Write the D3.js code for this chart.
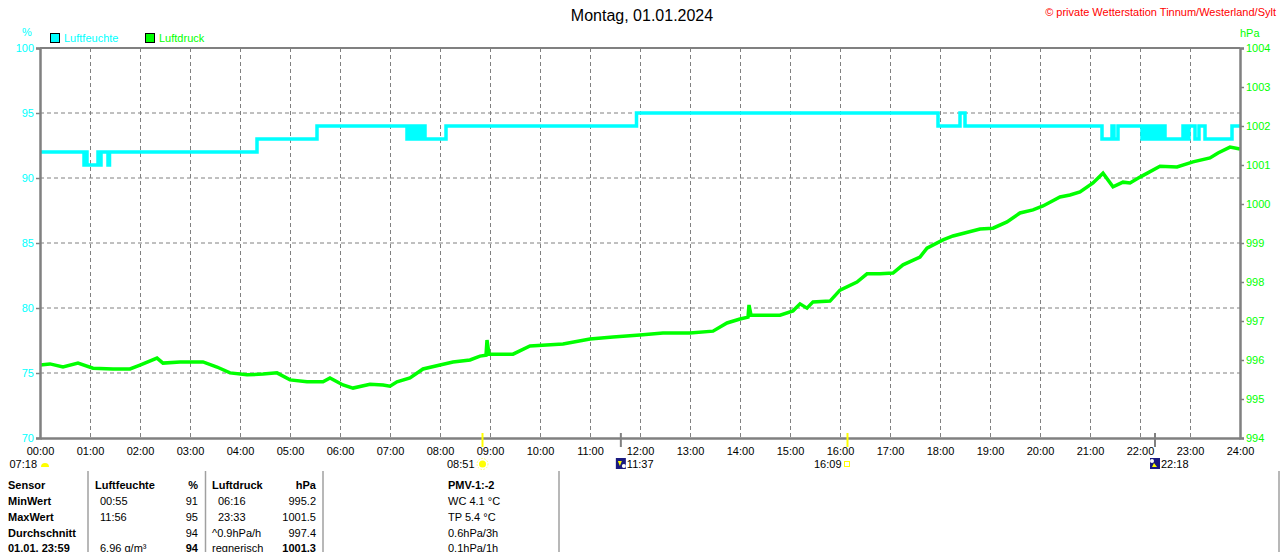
<!DOCTYPE html>
<html>
<head>
<meta charset="utf-8">
<script src="https://cdn.jsdelivr.net/npm/d3@7"></script>
<style>
  body { margin: 0; background: #fff; }
  svg text { font-family: "Liberation Sans", Arial, sans-serif; }
</style>
</head>
<body>
<div id="chart"></div>
<script>
// humidity (%) as step series: hour of day -> value
const humTimes  = [0, 0.88, 0.92, 0.94, 1.16, 1.2, 1.22, 1.36, 1.39, 4.34, 5.54,
  7.34, 7.38, 7.42, 7.46, 7.5, 7.54, 7.6, 7.64, 7.7, 8.12, 11.93, 17.96, 18.4, 18.5,
  21.24, 21.44, 21.48, 21.56, 22.04, 22.1, 22.14, 22.2, 22.26, 22.32, 22.38, 22.44, 22.5,
  22.86, 22.92, 22.98, 23.1, 23.18, 23.3, 23.84, 24];
const humValues = [92, 91, 92, 91, 92, 91, 92, 91, 92, 93, 94,
  93, 94, 93, 94, 93, 94, 93, 94, 93, 94, 95, 94, 95, 94,
  93, 94, 93, 94, 93, 94, 93, 94, 93, 94, 93, 94, 93,
  94, 93, 94, 93, 94, 93, 94, 94];

// air pressure (hPa)
const pressTimes = [0, 0.2, 0.46, 0.76, 1.06, 1.46, 1.8, 2.0, 2.34, 2.46, 2.8, 3.26, 3.54, 3.8,
  4.14, 4.46, 4.74, 5.0, 5.34, 5.66, 5.8, 6.06, 6.26, 6.6, 6.86, 7.0, 7.14, 7.4, 7.66, 8.0,
  8.26, 8.6, 8.8, 8.92, 8.94, 8.98, 9.46, 9.8, 10.46, 11.0, 11.46, 12.0, 12.46, 13.0, 13.46,
  13.74, 14.0, 14.16, 14.18, 14.22, 14.8, 15.06, 15.2, 15.34, 15.46, 15.8, 16.0, 16.34, 16.54,
  16.8, 17.06, 17.26, 17.6, 17.74, 18.06, 18.26, 18.8, 19.06, 19.34, 19.6, 19.86, 20.06, 20.4,
  20.6, 20.8, 21.06, 21.26, 21.46, 21.66, 21.8, 22.0, 22.4, 22.74, 23.06, 23.4, 23.56, 23.8, 24];
const pressValues = [995.87, 995.90, 995.82, 995.92, 995.79, 995.77, 995.77, 995.87, 996.05, 995.92,
  995.95, 995.95, 995.82, 995.67, 995.62, 995.64, 995.67, 995.49, 995.44, 995.44, 995.54, 995.36,
  995.28, 995.38, 995.36, 995.33, 995.44, 995.54, 995.77, 995.87, 995.95, 996.00, 996.10, 996.12,
  996.51, 996.15, 996.15, 996.36, 996.41, 996.54, 996.59, 996.64, 996.69, 996.69, 996.74, 996.95,
  997.05, 997.10, 997.41, 997.15, 997.15, 997.26, 997.44, 997.33, 997.49, 997.51, 997.79, 998.00,
  998.21, 998.21, 998.23, 998.44, 998.64, 998.87, 999.08, 999.18, 999.36, 999.38, 999.54, 999.77,
  999.85, 999.95, 1000.18, 1000.23, 1000.31, 1000.54, 1000.79, 1000.44, 1000.56, 1000.54, 1000.69,
  1000.97, 1000.95, 1001.08, 1001.18, 1001.31, 1001.46, 1001.41, 1001.33];

const humTicks   = [70, 75, 80, 85, 90, 95, 100];
const pressTicks = [994, 995, 996, 997, 998, 999, 1000, 1001, 1002, 1003, 1004];
const hourTicks  = [0, 1, 2, 3, 4, 5, 6, 7, 8, 9, 10, 11, 12, 13, 14, 15, 16, 17, 18, 19, 20, 21, 22, 23, 24];
const hourLabels = ['00:00', '01:00', '02:00', '03:00', '04:00', '05:00', '06:00', '07:00', '08:00',
  '09:00', '10:00', '11:00', '12:00', '13:00', '14:00', '15:00', '16:00', '17:00', '18:00', '19:00',
  '20:00', '21:00', '22:00', '23:00', '24:00'];

// sun / moon events
const eventTimes  = [8.85, 11.617, 16.15, 22.3];
const eventLabels = ['08:51', '11:37', '16:09', '22:18'];
const eventKinds  = ['sunrise', 'moonset', 'sunset', 'moonrise'];

// summary table
const tableLabels = ['Sensor', 'MinWert', 'MaxWert', 'Durchschnitt', '01.01. 23:59'];
const humCol  = [['Luftfeuchte', '%'], ['00:55', '91'], ['11:56', '95'], ['', '94'], ['6.96 g/m³', '94']];
const pressCol = [['Luftdruck', 'hPa'], ['06:16', '995.2'], ['23:33', '1001.5'], ['^0.9hPa/h', '997.4'], ['regnerisch', '1001.3']];
const extraCol = ['PMV-1:-2', 'WC 4.1 °C', 'TP 5.4 °C', '0.6hPa/3h', '0.1hPa/1h'];

const W = 1280, H = 552;
const CYAN = '#00ffff', GREEN = '#00ff00', GRAY = '#808080';

const svg = d3.select('#chart').append('svg').attr('width', W).attr('height', H);

const x = d3.scaleLinear().domain([0, 24]).range([40, 1240]);
const yH = d3.scaleLinear().domain([70, 100]).range([438, 48]);
const yP = d3.scaleLinear().domain([994, 1004]).range([438, 48]);

// grid
svg.append('g').selectAll('line')
  .data(humTicks.filter(d => d > 70 && d < 100))
  .enter().append('line')
  .attr('x1', x(0)).attr('x2', x(24))
  .attr('y1', d => yH(d)).attr('y2', d => yH(d))
  .attr('stroke', GRAY).attr('stroke-dasharray', '4,3');
svg.append('g').selectAll('line')
  .data(hourTicks.filter(d => d > 0 && d < 24))
  .enter().append('line')
  .attr('x1', d => x(d) + 0.5).attr('x2', d => x(d) + 0.5)
  .attr('y1', yH(100)).attr('y2', yH(70))
  .attr('stroke', GRAY).attr('stroke-dasharray', '4,3');

// lines
const humData = humTimes.map((t, i) => [t, humValues[i]]);
const pressData = pressTimes.map((t, i) => [t, pressValues[i]]);

svg.append('path')
  .datum(pressData)
  .attr('fill', 'none').attr('stroke', GREEN).attr('stroke-width', 3.5)
  .attr('d', d3.line().x(d => x(d[0])).y(d => yP(d[1])));

svg.append('path')
  .datum(humData)
  .attr('fill', 'none').attr('stroke', CYAN).attr('stroke-width', 3.5)
  .attr('d', d3.line().curve(d3.curveStepAfter).x(d => x(d[0])).y(d => yH(d[1])));

// frame top
svg.append('line').attr('x1', x(0)).attr('x2', x(24)).attr('y1', yH(100)).attr('y2', yH(100))
  .attr('stroke', GRAY).attr('stroke-width', 2);

// axes
const leftAxis = svg.append('g').attr('transform', `translate(${x(0)},0)`)
  .call(d3.axisLeft(yH).tickValues(humTicks).tickSize(4).tickPadding(2).tickFormat(d3.format('d')));
const rightAxis = svg.append('g').attr('transform', `translate(${x(24)},0)`)
  .call(d3.axisRight(yP).tickValues(pressTicks).tickSize(4).tickPadding(2).tickFormat(d3.format('d')));
const bottomAxis = svg.append('g').attr('transform', `translate(0,${yH(70)})`)
  .call(d3.axisBottom(x).tickValues(hourTicks).tickSize(0).tickPadding(9)
    .tickFormat((d, i) => hourLabels[i]));

[leftAxis, rightAxis, bottomAxis].forEach(g => {
  g.select('.domain').attr('stroke', GRAY).attr('stroke-width', 2.5);
  g.selectAll('.tick line').attr('stroke', GRAY).attr('stroke-width', 1.5);
  g.selectAll('text').attr('font-size', 11).attr('font-family', '"Liberation Sans", Arial, sans-serif');
});
leftAxis.selectAll('text').attr('fill', CYAN);
rightAxis.selectAll('text').attr('fill', GREEN);
bottomAxis.selectAll('text').attr('fill', '#000');

// axis units
svg.append('text').attr('x', 27).attr('y', 36).attr('text-anchor', 'middle')
  .attr('font-size', 11).attr('fill', CYAN).text('%');
svg.append('text').attr('x', 1240).attr('y', 37)
  .attr('font-size', 11).attr('fill', GREEN).text('hPa');

// legend
const legend = [['Luftfeuchte', CYAN, 50], ['Luftdruck', GREEN, 145]];
legend.forEach(([name, col, lx]) => {
  svg.append('rect').attr('x', lx + 0.5).attr('y', 33.5).attr('width', 9).attr('height', 9)
    .attr('fill', col).attr('stroke', '#000');
  svg.append('text').attr('x', lx + 14).attr('y', 42).attr('font-size', 11).attr('fill', col).text(name);
});

// title and copyright
svg.append('text').attr('x', 642).attr('y', 21).attr('text-anchor', 'middle')
  .attr('font-size', 16).attr('fill', '#000').text('Montag, 01.01.2024');
svg.append('text').attr('x', 1276).attr('y', 16).attr('text-anchor', 'end')
  .attr('font-size', 11).attr('fill', '#ff0000').text('© private Wetterstation Tinnum/Westerland/Sylt');

// sun / moon event markers
eventTimes.forEach((t, i) => {
  const ex = x(t);
  const kind = eventKinds[i];
  const isSun = kind.startsWith('sun');
  svg.append('line').attr('x1', ex).attr('x2', ex).attr('y1', 433).attr('y2', 447)
    .attr('stroke', isSun ? '#ffff00' : GRAY).attr('stroke-width', 2);
  if (kind === 'sunrise') {
    svg.append('circle').attr('cx', ex).attr('cy', 464).attr('r', 3.5).attr('fill', '#ffff00');
    svg.append('circle').attr('cx', ex).attr('cy', 464).attr('r', 5.5).attr('fill', 'none')
      .attr('stroke', '#ffff66').attr('stroke-dasharray', '1.5,1.5');
    svg.append('text').attr('x', ex - 8).attr('y', 468).attr('text-anchor', 'end')
      .attr('font-size', 11).text(eventLabels[i]);
  } else if (kind === 'sunset') {
    svg.append('rect').attr('x', ex - 3).attr('y', 461.5).attr('width', 5).attr('height', 5)
      .attr('fill', 'none').attr('stroke', '#ffff00');
    svg.append('text').attr('x', ex - 6).attr('y', 468).attr('text-anchor', 'end')
      .attr('font-size', 11).text(eventLabels[i]);
  } else {
    svg.append('rect').attr('x', ex - 5).attr('y', 458).attr('width', 10).attr('height', 11).attr('fill', '#1a1a80');
    svg.append('circle').attr('cx', ex + (kind === 'moonset' ? 3 : -3)).attr('cy', kind === 'moonset' ? 466 : 461)
      .attr('r', 2).attr('fill', '#fff');
    svg.append('path')
      .attr('d', kind === 'moonset'
        ? `M${ex - 3},461 L${ex + 1},461 L${ex - 1},466 Z`
        : `M${ex - 1},463 L${ex + 2},467 L${ex - 3},467 Z`)
      .attr('fill', '#ffff00');
    svg.append('text').attr('x', ex + 6).attr('y', 468)
      .attr('font-size', 11).text(eventLabels[i]);
  }
});

// start-of-day marker
svg.append('text').attr('x', 37).attr('y', 468).attr('text-anchor', 'end').attr('font-size', 11).text('07:18');
svg.append('path').attr('d', d3.arc()({ innerRadius: 0, outerRadius: 4, startAngle: -Math.PI / 2, endAngle: Math.PI / 2 }))
  .attr('transform', `translate(${x(0) + 5},467)`).attr('fill', '#ffff00');

// summary table
[88, 205.5, 323, 559, 1279].forEach(lx => {
  svg.append('line').attr('x1', lx).attr('x2', lx).attr('y1', 471).attr('y2', H)
    .attr('stroke', '#a0a0a0').attr('stroke-width', 1.5);
});
const rowY = [489, 505, 521, 537, 552];
tableLabels.forEach((lab, i) => {
  svg.append('text').attr('x', 8).attr('y', rowY[i]).attr('font-size', 11)
    .attr('font-weight', 'bold').text(lab);
});
humCol.forEach(([a, b], i) => {
  svg.append('text').attr('x', i === 0 ? 95 : 100).attr('y', rowY[i]).attr('font-size', 11)
    .attr('font-weight', i === 0 ? 'bold' : 'normal').text(a);
  svg.append('text').attr('x', 198).attr('y', rowY[i]).attr('text-anchor', 'end').attr('font-size', 11)
    .attr('font-weight', (i === 0 || i === 4) ? 'bold' : 'normal').text(b);
});
pressCol.forEach(([a, b], i) => {
  svg.append('text').attr('x', (i === 1 || i === 2) ? 218 : 212).attr('y', rowY[i]).attr('font-size', 11)
    .attr('font-weight', i === 0 ? 'bold' : 'normal').text(a);
  svg.append('text').attr('x', 316).attr('y', rowY[i]).attr('text-anchor', 'end').attr('font-size', 11)
    .attr('font-weight', (i === 0 || i === 4) ? 'bold' : 'normal').text(b);
});
extraCol.forEach((t, i) => {
  svg.append('text').attr('x', 448).attr('y', rowY[i]).attr('font-size', 11)
    .attr('font-weight', i === 0 ? 'bold' : 'normal').text(t);
});
</script>
</body>
</html>
